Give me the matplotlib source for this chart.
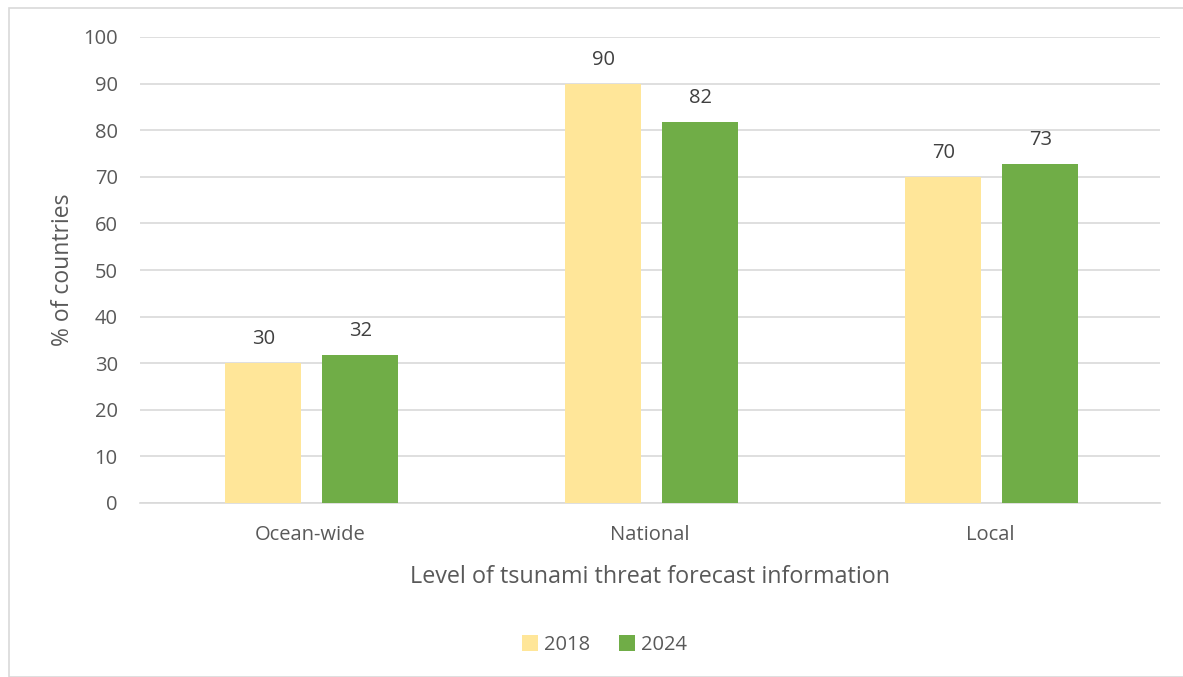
import matplotlib
matplotlib.use("Agg")
import matplotlib.pyplot as plt
from matplotlib.patches import Rectangle
import numpy as np

# data
categories = ["Ocean-wide", "National", "Local"]
values_2018 = [30, 90, 70]
values_2024 = [31.8, 81.8, 72.7]
series_names = ["2018", "2024"]

plt.rcParams["font.family"] = ["Open Sans", "DejaVu Sans"]

fig = plt.figure(figsize=(11.83, 6.77), dpi=100)
ax = fig.add_axes([140 / 1183, 1 - 503 / 677, 1020 / 1183, 466 / 677])

# grauer Rahmen um die Grafik
fig.patches.append(Rectangle((9 / 1183, 0), 1.2, 1 - 8 / 677, transform=fig.transFigure,
                             fill=False, edgecolor="#d9d9d9", linewidth=1.2))

x = np.arange(len(categories))
w = 0.2235
off = (w + 0.062) / 2
b1 = ax.bar(x - off + 0.005, values_2018, w, color="#FFE699", label=series_names[0], zorder=3)
b2 = ax.bar(x + off + 0.005, values_2024, w, color="#70AD47", label=series_names[1], zorder=3)

for bars, vals in ((b1, values_2018), (b2, values_2024)):
    for bar, v in zip(bars, vals):
        ax.annotate(f"{v:.0f}", (bar.get_x() + bar.get_width() / 2, v),
                    xytext=(0, 10), textcoords="offset points", ha="center", va="bottom",
                    fontsize=14.5, color="#404040")

ax.set_xlim(-0.5, 2.5)
ax.set_ylim(0, 100)
ax.set_yticks(range(0, 101, 10))
ax.set_xticks(x)
ax.set_xticklabels(categories)
ax.grid(axis="y", color="#d9d9d9", linewidth=1.2, zorder=0)
for s in ["top", "right", "left"]:
    ax.spines[s].set_visible(False)
ax.spines["bottom"].set_color("#d9d9d9")
ax.spines["bottom"].set_linewidth(1.2)
ax.tick_params(axis="both", length=0, labelsize=14.5, labelcolor="#595959")
ax.tick_params(axis="x", labelsize=14.5, pad=16)
ax.tick_params(axis="y", pad=16)

ax.set_ylabel("% of countries", fontsize=16.5, color="#595959", labelpad=6)
ax.set_xlabel("Level of tsunami threat forecast information", fontsize=16.8, color="#595959", labelpad=14)

fig.legend(loc="center", bbox_to_anchor=(0.511, 1 - 645 / 677), ncol=2, frameon=False,
           fontsize=14.5, labelcolor="#595959", handlelength=0.8, handleheight=0.8,
           handletextpad=0.3, columnspacing=1.4)

fig.savefig("out.png", dpi=100)
